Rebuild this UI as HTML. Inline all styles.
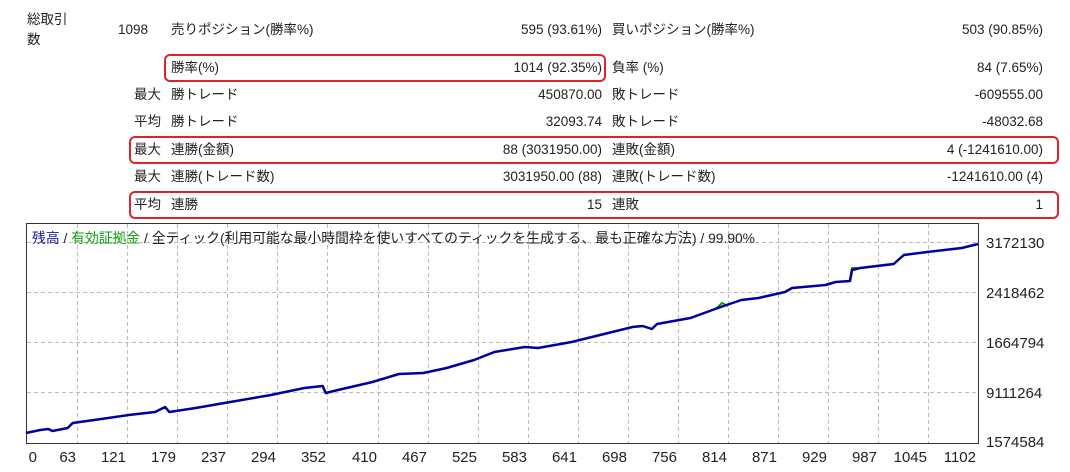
<!DOCTYPE html>
<html><head><meta charset="utf-8"><style>
body{margin:0;width:1070px;height:472px;background:#fff;font-family:"Liberation Sans","Noto Sans CJK JP",sans-serif;font-size:13.5px;color:#222;position:relative;overflow:hidden}
.t{position:absolute;white-space:nowrap;line-height:16px}
.r{text-align:right}
.box{position:absolute;border:2px solid #e0222a;border-radius:6px;box-sizing:border-box}
</style></head><body>
<div class="t" style="left:27px;top:12px">総取引</div>
<div class="t" style="left:27px;top:32px">数</div>

<div class="box" style="left:164px;top:54px;width:442px;height:28px"></div>
<div class="box" style="left:129px;top:136px;width:930px;height:28px"></div>
<div class="box" style="left:129px;top:191px;width:930px;height:28px"></div>

<div class="t r" style="right:922px;top:22px">1098</div>
<div class="t" style="left:171px;top:22px">売りポジション(勝率%)</div>
<div class="t r" style="right:468px;top:22px">595 (93.61%)</div>
<div class="t" style="left:612px;top:22px">買いポジション(勝率%)</div>
<div class="t r" style="right:27px;top:22px">503 (90.85%)</div>

<div class="t" style="left:171px;top:60px">勝率(%)</div>
<div class="t r" style="right:468px;top:60px">1014 (92.35%)</div>
<div class="t" style="left:612px;top:60px">負率 (%)</div>
<div class="t r" style="right:27px;top:60px">84 (7.65%)</div>

<div class="t" style="left:134px;top:87px">最大</div>
<div class="t" style="left:171px;top:87px">勝トレード</div>
<div class="t r" style="right:468px;top:87px">450870.00</div>
<div class="t" style="left:612px;top:87px">敗トレード</div>
<div class="t r" style="right:27px;top:87px">-609555.00</div>

<div class="t" style="left:134px;top:114px">平均</div>
<div class="t" style="left:171px;top:114px">勝トレード</div>
<div class="t r" style="right:468px;top:114px">32093.74</div>
<div class="t" style="left:612px;top:114px">敗トレード</div>
<div class="t r" style="right:27px;top:114px">-48032.68</div>

<div class="t" style="left:134px;top:142px">最大</div>
<div class="t" style="left:171px;top:142px">連勝(金額)</div>
<div class="t r" style="right:468px;top:142px">88 (3031950.00)</div>
<div class="t" style="left:612px;top:142px">連敗(金額)</div>
<div class="t r" style="right:27px;top:142px">4 (-1241610.00)</div>

<div class="t" style="left:134px;top:169px">最大</div>
<div class="t" style="left:171px;top:169px">連勝(トレード数)</div>
<div class="t r" style="right:468px;top:169px">3031950.00 (88)</div>
<div class="t" style="left:612px;top:169px">連敗(トレード数)</div>
<div class="t r" style="right:27px;top:169px">-1241610.00 (4)</div>

<div class="t" style="left:134px;top:197px">平均</div>
<div class="t" style="left:171px;top:197px">連勝</div>
<div class="t r" style="right:468px;top:197px">15</div>
<div class="t" style="left:612px;top:197px">連敗</div>
<div class="t r" style="right:27px;top:197px">1</div>

<svg width="1070" height="472" style="position:absolute;left:0;top:0" font-family="Liberation Sans, Noto Sans CJK JP, sans-serif" font-size="15">
<g stroke="#bbb" stroke-dasharray="4,3" stroke-width="1">
<line x1="27" x2="979" y1="242.5" y2="242.5"/><line x1="27" x2="979" y1="292.5" y2="292.5"/><line x1="27" x2="979" y1="342.5" y2="342.5"/><line x1="27" x2="979" y1="392.5" y2="392.5"/>
<line x1="77.5" x2="77.5" y1="224" y2="443"/><line x1="127.5" x2="127.5" y1="224" y2="443"/><line x1="177.5" x2="177.5" y1="224" y2="443"/><line x1="227.5" x2="227.5" y1="224" y2="443"/><line x1="277.5" x2="277.5" y1="224" y2="443"/><line x1="327.5" x2="327.5" y1="224" y2="443"/><line x1="378.5" x2="378.5" y1="224" y2="443"/><line x1="428.5" x2="428.5" y1="224" y2="443"/><line x1="478.5" x2="478.5" y1="224" y2="443"/><line x1="528.5" x2="528.5" y1="224" y2="443"/><line x1="578.5" x2="578.5" y1="224" y2="443"/><line x1="628.5" x2="628.5" y1="224" y2="443"/><line x1="678.5" x2="678.5" y1="224" y2="443"/><line x1="728.5" x2="728.5" y1="224" y2="443"/><line x1="778.5" x2="778.5" y1="224" y2="443"/><line x1="828.5" x2="828.5" y1="224" y2="443"/><line x1="878.5" x2="878.5" y1="224" y2="443"/><line x1="928.5" x2="928.5" y1="224" y2="443"/>
</g>
<rect x="26.5" y="223.5" width="952" height="220" fill="none" stroke="#333"/>
<g transform="translate(26,0) scale(1.016,1) translate(-26,0)">
<polyline fill="none" stroke="#0a9a0a" stroke-width="2" points="705,309 711,303 717,306"/>
<polyline fill="none" stroke="#0a9a0a" stroke-width="2" points="837,280 839,268 844,268"/>
<polyline fill="none" stroke="#0000a0" stroke-width="2.5" stroke-linejoin="round" points="26,433 40,430 48,429 52,431 67,428 72,423 100,419 127,415 153,412 163,407 167,412 193,408 227,402 267,395 300,388 318,386 321,393 333,390 367,382 393,374 417,373 440,368 467,360 487,352 517,347 530,348 563,342 587,336 623,327 633,326 642,329 647,324 680,318 707,308 730,300 747,298 773,292 780,288 813,285 823,282 837,281 839,270 847,268 880,264 890,255 913,252 947,248 963,244"/>
</g>
<g fill="#222">
<text x="986" y="248">3172130</text><text x="986" y="298">2418462</text><text x="986" y="348">1664794</text><text x="986" y="398">9111264</text><text x="986" y="447">1574584</text>
</g>
<g fill="#222" text-anchor="end">
<text x="37" y="462">0</text><text x="76" y="462">63</text><text x="126" y="462">121</text><text x="176" y="462">179</text><text x="226" y="462">237</text><text x="276" y="462">294</text><text x="326" y="462">352</text><text x="377" y="462">410</text><text x="427" y="462">467</text><text x="477" y="462">525</text><text x="527" y="462">583</text><text x="577" y="462">641</text><text x="627" y="462">698</text><text x="677" y="462">756</text><text x="727" y="462">814</text><text x="777" y="462">871</text><text x="827" y="462">929</text><text x="877" y="462">987</text><text x="927" y="462">1045</text><text x="976" y="462">1102</text>
</g>
<text x="32" y="243" font-size="14" textLength="723" lengthAdjust="spacingAndGlyphs"><tspan fill="#1a1aa0">残高</tspan><tspan fill="#222"> / </tspan><tspan fill="#10a010">有効証拠金</tspan><tspan fill="#222"> / 全ティック(利用可能な最小時間枠を使いすべてのティックを生成する、最も正確な方法) / 99.90%</tspan></text>
</svg>
</body></html>
